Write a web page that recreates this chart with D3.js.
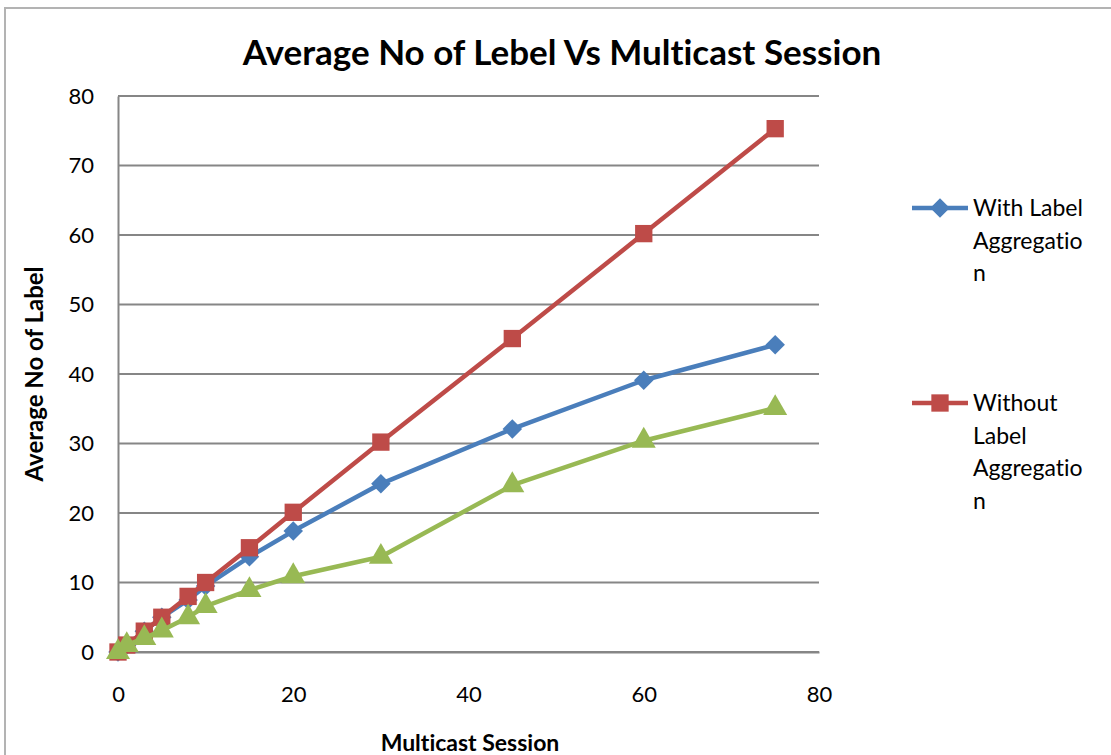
<!DOCTYPE html>
<html>
<head>
<meta charset="utf-8">
<script src="https://cdn.jsdelivr.net/npm/d3@7"></script>
<style>
  html, body { margin: 0; padding: 0; background: #fff; }
  svg { display: block; }
  text { font-family: Lato, "Open Sans", "Liberation Sans", sans-serif; fill: #000; font-variant-ligatures: none; }
</style>
</head>
<body>
<svg id="chart" width="1111" height="755"></svg>
<script>
// ---- data ----
const sessions = [0, 1, 3, 5, 8, 10, 15, 20, 30, 45, 60, 75];
const withAggregation = [0, 1, 3, 5, 7.5, 9.5, 13.7, 17.4, 24.2, 32.1, 39.1, 44.2];
const withoutAggregation = [0, 1, 3, 5, 8, 10, 15, 20.1, 30.2, 45.1, 60.2, 75.3];
const thirdSeries = [0, 1, 2, 3.1, 5, 6.6, 8.9, 10.9, 13.7, 24, 30.4, 35.1];
const xTicks = [0, 20, 40, 60, 80];
const yTicks = [0, 10, 20, 30, 40, 50, 60, 70, 80];
const legendLabels = [["With Label", "Aggregatio", "n"], ["Without", "Label", "Aggregatio", "n"]];
const titleText = "Average No of Lebel Vs Multicast Session";
const xTitle = "Multicast Session";
const yTitle = "Average No of Label";

(function () {
const svg = d3.select("#chart");

// outer chart frame
svg.append("path")
  .attr("d", "M5,760 L5,8 L1120,8")
  .attr("fill", "none").attr("stroke", "#b3b3b3").attr("stroke-width", 2);

const pL = 118, pR = 819, pT = 96, pB = 652;
const x = d3.scaleLinear().domain([0, 80]).range([pL, pR]);
const y = d3.scaleLinear().domain([0, 80]).range([pB, pT]);

// gridlines
svg.append("g").selectAll("line").data(yTicks).join("line")
  .attr("x1", pL).attr("x2", pR)
  .attr("y1", d => y(d)).attr("y2", d => y(d))
  .attr("stroke", "#868686").attr("stroke-width", 2);

// y axis
const yAxis = svg.append("g").attr("transform", `translate(${pL},0)`)
  .call(d3.axisLeft(y).tickValues(yTicks).tickSize(0).tickPadding(24).tickFormat(d3.format("d")));
yAxis.select(".domain").attr("stroke", "#868686").attr("stroke-width", 2);
yAxis.selectAll("text").style("font-size", "22px").style("font-family", "Lato, 'Open Sans', sans-serif");

// x axis
const xAxis = svg.append("g").attr("transform", `translate(0,${pB})`)
  .call(d3.axisBottom(x).tickValues(xTicks).tickSize(0).tickPadding(34).tickFormat(d3.format("d")));
xAxis.select(".domain").attr("stroke", "#868686").attr("stroke-width", 2);
xAxis.selectAll("text").style("font-size", "22px").style("font-family", "Lato, 'Open Sans', sans-serif");

// titles
svg.append("text").attr("x", 562).attr("y", 65).attr("text-anchor", "middle")
  .style("font-size", "35px").style("font-weight", "bold").text(titleText);
svg.append("text").attr("x", 470).attr("y", 751).attr("text-anchor", "middle")
  .style("font-size", "23px").style("font-weight", "bold").text(xTitle);
svg.append("text").attr("transform", "translate(43,374) rotate(-90)").attr("text-anchor", "middle")
  .style("font-size", "24px").style("font-weight", "bold").text(yTitle);

const line = d3.line().x(d => x(d[0])).y(d => y(d[1]));
const seriesDefs = [
  { values: withAggregation, color: "#4A7EBB", symbol: d3.symbolSquare, size: 190, rot: 45 },
  { values: withoutAggregation, color: "#BE4B48", symbol: d3.symbolSquare, size: 300, rot: 0 },
  { values: thirdSeries, color: "#98B954", symbol: d3.symbolTriangle, size: 250, rot: 0 }
];
const symTransform = (s, px, py) => `translate(${px},${py}) rotate(${s.rot})`;

seriesDefs.forEach(s => {
  const pts = sessions.map((v, i) => [v, s.values[i]]);
  svg.append("path").datum(pts).attr("d", line)
    .attr("fill", "none").attr("stroke", s.color).attr("stroke-width", 4.5)
    .attr("stroke-linejoin", "round").attr("stroke-linecap", "round");
  svg.append("g").selectAll("path").data(pts).join("path")
    .attr("d", d3.symbol().type(s.symbol).size(s.size))
    .attr("transform", d => symTransform(s, x(d[0]), y(d[1])))
    .attr("fill", s.color);
});

// legend
const legendY = [208, 403];
legendLabels.forEach((lines, i) => {
  const s = seriesDefs[i];
  const g = svg.append("g");
  g.append("line").attr("x1", 912).attr("x2", 968).attr("y1", legendY[i]).attr("y2", legendY[i])
    .attr("stroke", s.color).attr("stroke-width", 4.5);
  g.append("path").attr("d", d3.symbol().type(s.symbol).size(s.size)())
    .attr("transform", symTransform(s, 940, legendY[i]))
    .attr("fill", s.color);
  lines.forEach((t, j) => {
    g.append("text").attr("x", 973).attr("y", legendY[i] + j * 32.7).attr("dy", "0.35em")
      .style("font-size", "23px").text(t);
  });
});
})();
</script>
</body>
</html>
